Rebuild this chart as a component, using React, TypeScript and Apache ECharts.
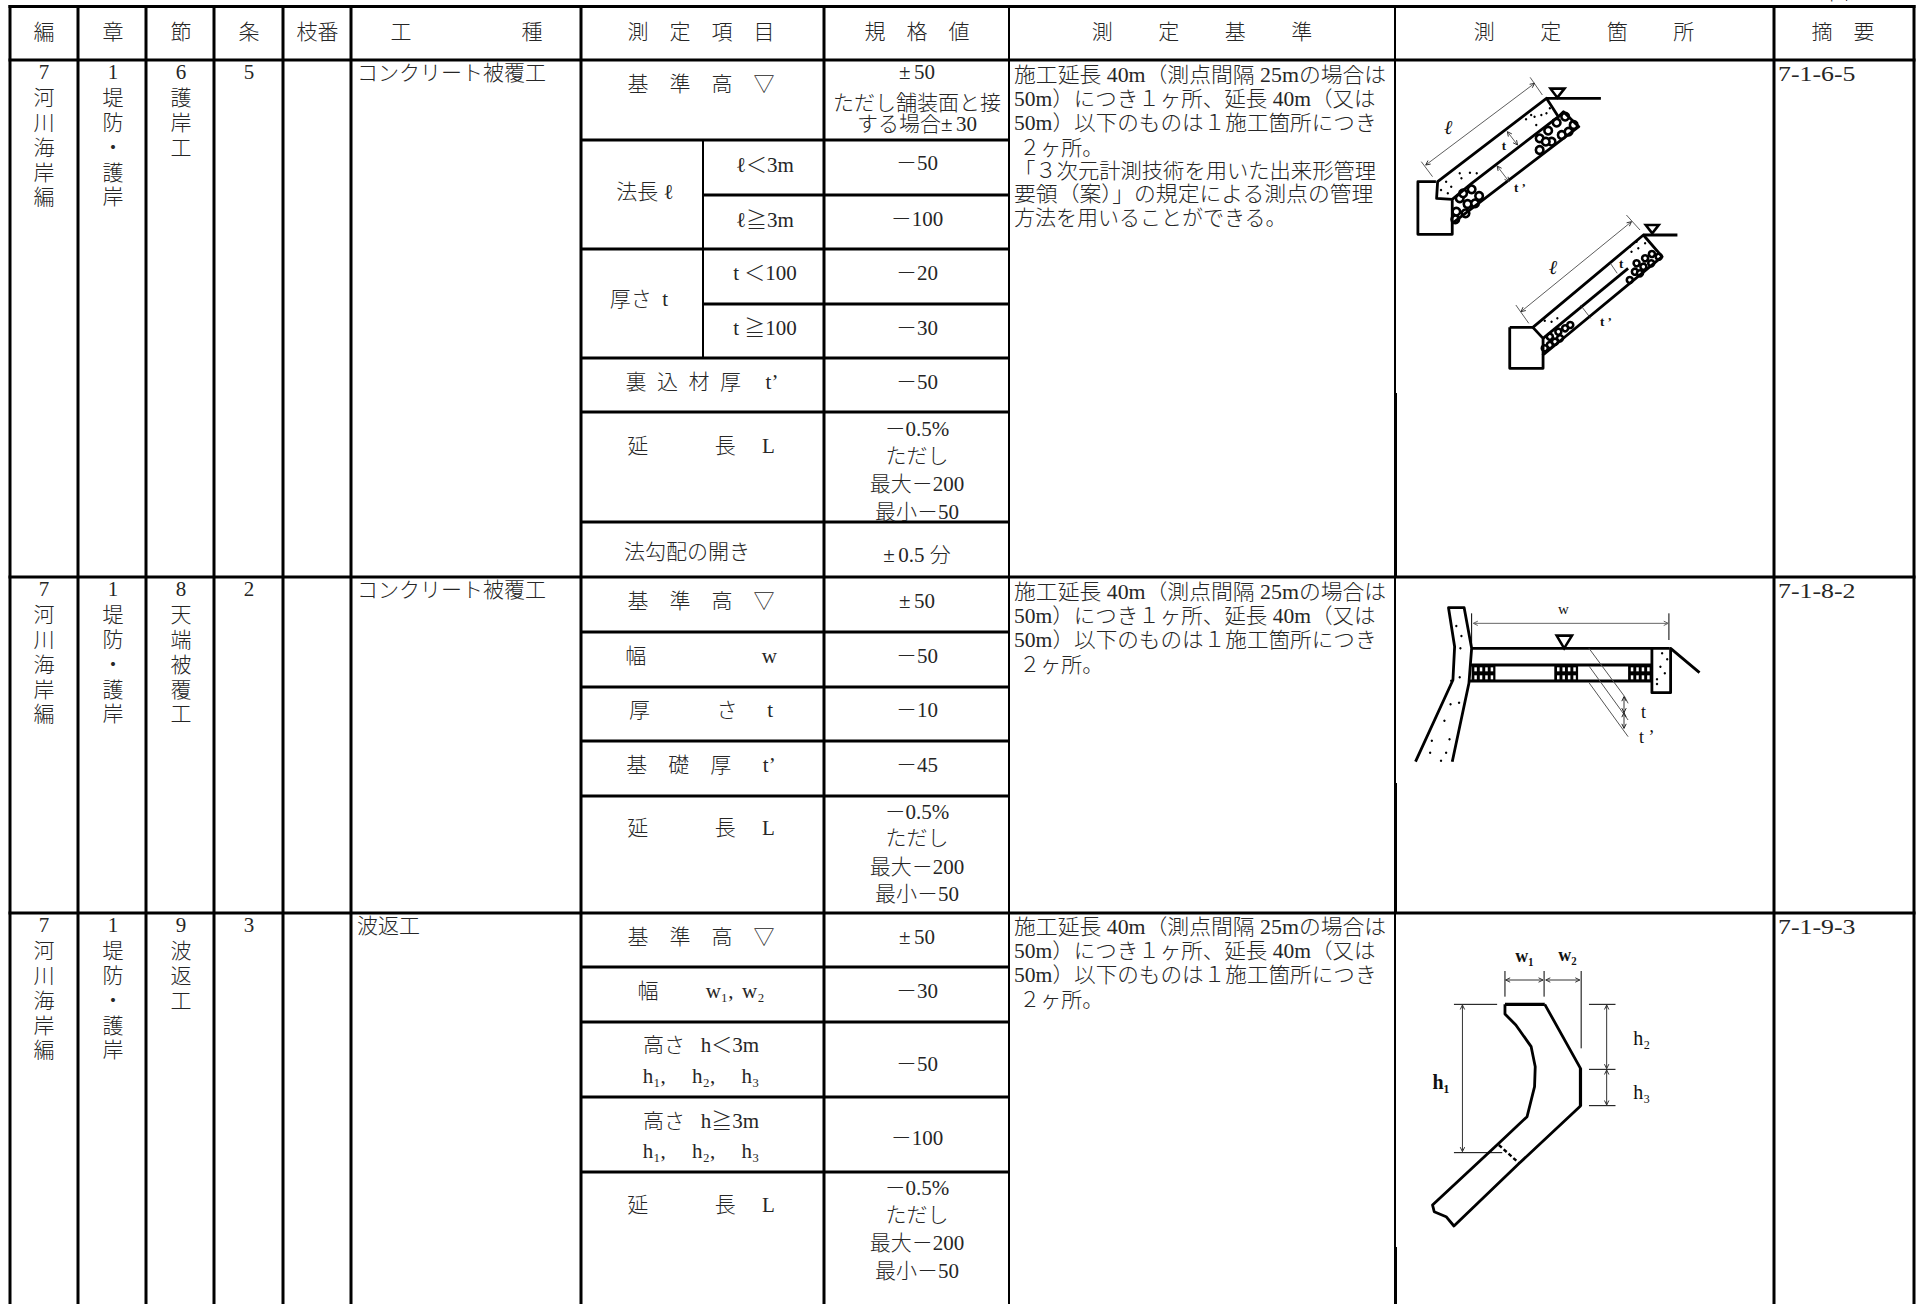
import React, { useEffect, useRef } from "react";
import * as echarts from "echarts";

// ---------- table content ----------
const E = "\u3000"; // 1em
const N = "\u2002"; // 1/2em
const Q = "\u2005"; // 1/4em
const S = "\u2006"; // 1/6em

const headerLabels = ["編", "章", "節", "条", "枝番", `工${E}${E}${E}${E}${E}${Q}種`, `測${E}定${E}項${E}目`, `規${E}格${E}値`, `測${E}${E}${S}定${E}${E}${S}基${E}${E}${S}準`, `測${E}${E}${S}定${E}${E}${S}箇${E}${E}${S}所`, `摘${E}要`];
const unitLabel = "単位：mm";

const hen = ["7", "河", "川", "海", "岸", "編"];
const sho = ["1", "堤", "防", "・", "護", "岸"];
const setsu = [["6", "護", "岸", "工"], ["8", "天", "端", "被", "覆", "工"], ["9", "波", "返", "工"]];
const jo = ["5", "2", "3"];
const koshu = ["コンクリート被覆工", "コンクリート被覆工", "波返工"];
const tekiyo = ["7-1-6-5", "7-1-8-2", "7-1-9-3"];

const kijunDaka = `基${E}準${E}高${E}▽`;
const encho = `延${E}${E}${E}${S}長${E}${Q}L`;
const pm50 = `±${S}50`;

const row1Items = [kijunDaka, `裏${N}込${N}材${N}厚${E}${S}t’`, encho, "法勾配の開き"];
const row1Nested = [`法長${Q}ℓ`, `厚さ${N}t`];
const row1Conditions = ["ℓ＜3m", "ℓ≧3m", "t ＜100", "t ≧100"];
const row1Values = [pm50, "ただし舗装面と接", `する場合±${S}30`, "－50", "－100", "－20", "－30", "－50", "－0.5%", "ただし", "最大－200", "最小－50", `±${S}0.5 分`];

const row2Items = [kijunDaka, `幅${E}${E}${E}${E}${E}${N}w`, `厚${E}${E}${E}${S}さ${E}${Q}${S}t`, `基${E}礎${E}厚${E}${N}t’`, encho];
const row2Values = [pm50, "－50", "－10", "－45", "－0.5%", "ただし", "最大－200", "最小－50"];

const hSubs = `h₁,${E}${Q}h₂,${E}${Q}h₃`;
const row3Items = [kijunDaka, `幅${E}${E}${Q}w₁,${Q}${S}w₂`, `高さ${N}${Q}h＜3m`, hSubs, `高さ${N}${Q}h≧3m`, hSubs, encho];
const row3Values = [pm50, "－30", "－50", "－100", "－0.5%", "ただし", "最大－200", "最小－50"];

const standardFull = [
  "施工延長 40m（測点間隔 25mの場合は",
  "50m）につき１ヶ所、延長 40m（又は",
  "50m）以下のものは１施工箇所につき",
  " ２ヶ所。",
  "「３次元計測技術を用いた出来形管理",
  "要領（案）」の規定による測点の管理",
  "方法を用いることができる。",
];
const standardShort = standardFull.slice(0, 4);

// ---------- layout ----------
const colX = [10, 78, 146, 214, 283, 351, 581, 824, 1009, 1396, 1774, 1914];
const rowTops = [60, 577, 913];
const BOTTOM = 1304;
const RIGHT = 1915.5;
const FONT = '"Liberation Serif","Noto Sans CJK JP",serif';
const INK = "#262626";
const lineStretch = [1.04, 1.025, 1.03, 1, 1.015, 1.04, 1];
const CROP_X = 2.94;

function App() {
  const ref = useRef<HTMLDivElement>(null);
  useEffect(() => {
    document.body.style.margin = "0";
    document.body.style.overflow = "hidden";
    const chart = echarts.init(ref.current!, null, { renderer: "svg" });
    const g: any[] = [];

    const line = (x1: number, y1: number, x2: number, y2: number, w = 3, c = "#000") =>
      g.push({ type: "line", silent: true, shape: { x1, y1, x2, y2 }, style: { stroke: c, lineWidth: w, lineCap: "butt" } });
    const txt = (text: string, x: number, y: number, align = "left", size = 21, extra: any = {}) =>
      g.push({
        type: "text", silent: true, x, y, ...(extra.scaleX ? { scaleX: extra.scaleX } : {}),
        style: { text, fontSize: size, fontFamily: FONT, fill: extra.fill || INK, align, verticalAlign: "middle", fontWeight: extra.weight || 300, fontStyle: extra.style || "normal" },
      });

    // ----- grid -----
    [6.5, 60, 577, 913].forEach((y) => line(8.5, y, RIGHT, y));
    colX.forEach((x, i) => {
      if (i === 9) return;
      const w = i === 8 ? 2 : 3;
      line(x, 5, x, BOTTOM, w);
    });
    line(1395, 5, 1395, BOTTOM, 2);
    [[393, 577], [783, 913], [1247, 1304]].forEach(([a, b]) => line(1396.5, a, 1396.5, b, 1));
    [140, 249, 358, 412, 522, 632, 687, 741, 796, 967, 1022, 1097, 1172].forEach((y) => line(581, y, 1009, y));
    [195, 304].forEach((y) => line(703, y, 1009, y));
    line(703, 140, 703, 358, 2);

    // ----- header -----
    const hx = [44, 113, 181, 249, 317.5, 466.5, 701, 917, 1202, 1584, 1843];
    headerLabels.forEach((t, i) => txt(t, hx[i], 31.5, "center"));
    txt(unitLabel, 1869, -8, "center");

    // ----- left columns -----
    const charOff = [12, 38, 63, 88, 113, 137];
    rowTops.forEach((top, r) => {
      hen.forEach((c, i) => txt(c, 44, top + charOff[i], "center"));
      sho.forEach((c, i) => txt(c, 113, top + charOff[i], "center"));
      setsu[r].forEach((c, i) => txt(c, 181, top + charOff[i], "center"));
      txt(jo[r], 249, top + 12, "center");
      txt(koshu[r], 357, top + 13);
      txt(tekiyo[r], 1778, top + 13.5, "left", 21, { scaleX: 1.23 });
    });

    // ----- measured items -----
    const ITEM = 701, VAL = 917;
    const iy1 = [83.5, 382, 446, 552];
    const ix1 = [701, 702, 701, 687];
    row1Items.forEach((t, i) => txt(t, ix1[i], iy1[i], "center"));
    txt(row1Nested[0], 645, 192, "center");
    txt(row1Nested[1], 639, 299, "center");
    [165, 220, 273, 328].forEach((y, i) => txt(row1Conditions[i], 765, y, "center"));
    [72, 102.5, 123.5, 163, 219, 273, 328, 382, 429, 456, 484, 512, 555].forEach((y, i) => txt(row1Values[i], VAL, y, "center"));

    [601, 656, 710, 765, 828].forEach((y, i) => txt(row2Items[i], ITEM, y, "center"));
    [601, 656, 710, 765, 812, 838, 867, 894].forEach((y, i) => txt(row2Values[i], VAL, y, "center"));

    [937, 991, 1045, 1076, 1121, 1151, 1205].forEach((y, i) => txt(row3Items[i], ITEM, y, "center"));
    [937, 991, 1064, 1138, 1188, 1215, 1243, 1271].forEach((y, i) => txt(row3Values[i], VAL, y, "center"));

    // ----- standards -----
    const stdOff = [15, 39, 63, 88, 111, 134, 158];
    standardFull.forEach((t, i) => txt(t, 1014, 60 + stdOff[i], "left", 21, { scaleX: lineStretch[i] }));
    standardShort.forEach((t, i) => txt(t, 1014, 577 + stdOff[i], "left", 21, { scaleX: lineStretch[i] }));
    standardShort.forEach((t, i) => txt(t, 1014, 913 + stdOff[i] - 1, "left", 21, { scaleX: lineStretch[i] }));

    // ----- sketches (zoomed-crop coordinates mapped to the page) -----
    const mk = (y0: number) => {
      const P = (x: number, y: number): [number, number] => [1390 + x / CROP_X, y0 + y / 3];
      const poly = (pts: number[][], w = 2.8, c = "#000", dash?: number[]) =>
        g.push({ type: "polyline", silent: true, shape: { points: pts.map(([x, y]) => P(x, y)) }, style: { stroke: c, lineWidth: w, fill: null, lineJoin: "round", lineDash: dash } });
      const tri = (pts: number[][]) =>
        g.push({ type: "polygon", silent: true, shape: { points: pts.map(([x, y]) => P(x, y)) }, style: { stroke: "#000", lineWidth: 2.6, fill: "#fff" } });
      const dot = (x: number, y: number, r = 1.2) => {
        const [a, b] = P(x, y);
        g.push({ type: "circle", silent: true, shape: { cx: a, cy: b, r }, style: { fill: "#000" } });
      };
      const ring = (x: number, y: number, r = 3.8, w = 2.6) => {
        const [a, b] = P(x, y);
        g.push({ type: "circle", silent: true, shape: { cx: a, cy: b, r }, style: { fill: "#fff", stroke: "#000", lineWidth: w } });
      };
      const arrow = (x1: number, y1: number, x2: number, y2: number, w = 0.8, c = "#333") => {
        poly([[x1, y1], [x2, y2]], w, c);
        const [ax, ay] = P(x1, y1), [bx, by] = P(x2, y2);
        const len = Math.hypot(bx - ax, by - ay) || 1, ux = (bx - ax) / len, uy = (by - ay) / len, h = 4.5;
        const head = (px: number, py: number, d: number) =>
          g.push({ type: "polyline", silent: true, shape: { points: [[px + d * h * ux - uy * 2.2, py + d * h * uy + ux * 2.2], [px, py], [px + d * h * ux + uy * 2.2, py + d * h * uy - ux * 2.2]] }, style: { stroke: c, lineWidth: 1, fill: null } });
        head(ax, ay, 1);
        head(bx, by, -1);
      };
      const label = (t: string, x: number, y: number, size = 15, weight: any = 700, style = "normal") => {
        const [a, b] = P(x, y);
        txt(t, a, b, "center", size, { weight, style, fill: "#111" });
      };
      return { poly, tri, dot, ring, arrow, label };
    };

    // slope sketch, upper
    {
      const d = mk(0);
      [[515, 350], [540, 375], [490, 368], [465, 392], [505, 405], [440, 415], [475, 425], [440, 450], [525, 395], [458, 425],
       [205, 595], [240, 568], [262, 588], [195, 635], [228, 612], [192, 658], [222, 640], [250, 610], [215, 580]].forEach(([x, y]) => d.ring(x, y));
      d.poly([[135, 545], [82, 545], [82, 703], [183, 703], [183, 598], [137, 595], [140, 545], [460, 295], [495, 350], [240, 550], [183, 598]]);
      d.poly([[460, 295], [620, 295]]);
      d.poly([[183, 670], [555, 380], [510, 335], [495, 350]]);
      d.tri([[472, 266], [513, 266], [492, 293]]);
      d.poly([[92, 485], [125, 530]], 0.8, "#333");
      d.poly([[412, 232], [448, 285]], 0.8, "#333");
      d.arrow(105, 495, 425, 250);
      d.arrow(345, 395, 375, 435);
      d.arrow(315, 498, 350, 545);
      d.label("ℓ", 172, 380, 20, 700, "italic");
      d.label("t", 335, 435, 13);
      d.label("t ’", 382, 563, 13);
      [[165, 545], [205, 520], [235, 518], [180, 560], [150, 570], [210, 535], [170, 580], [255, 520], [400, 358], [425, 350], [445, 345], [470, 325], [430, 375], [415, 345], [460, 340], [480, 360]].forEach(([x, y]) => d.dot(x, y));
    }
    // slope sketch, lower
    {
      const d = mk(0);
      [[470, 1010], [495, 995], [515, 985], [500, 1015], [470, 1035], [455, 1045], [485, 1025], [530, 975],
       [790, 770], [770, 762], [750, 775], [768, 790], [745, 800], [725, 790], [720, 815], [705, 840], [735, 820]].forEach(([x, y]) => d.ring(x, y, 3, 2.6));
      d.poly([[352, 982], [420, 982], [745, 705], [800, 770], [450, 1065], [450, 1105], [352, 1105], [352, 982]]);
      d.poly([[420, 982], [450, 1015], [450, 1065]]);
      d.poly([[450, 1015], [700, 805]]);
      d.poly([[745, 705], [845, 705]]);
      d.tri([[752, 675], [790, 675], [771, 700]]);
      d.poly([[370, 915], [408, 970]], 0.8, "#333");
      d.poly([[695, 645], [735, 690]], 0.8, "#333");
      d.arrow(385, 935, 710, 665);
      d.poly([[648, 790], [668, 820]], 0.8, "#333");
      d.poly([[560, 915], [590, 955]], 0.8, "#333");
      d.label("ℓ", 480, 800, 20, 700, "italic");
      d.label("t", 680, 790, 13);
      d.label("t ’", 635, 965, 13);
      [[455, 962], [475, 965], [492, 955], [710, 755], [730, 745], [750, 730], [725, 725], [705, 740]].forEach(([x, y]) => d.dot(x, y));
    }
    // crest sketch
    {
      const d = mk(570);
      d.poly([[75, 575], [185, 330], [190, 230], [172, 113], [218, 113], [240, 235], [232, 340], [183, 575]]);
      d.poly([[240, 130], [240, 235]], 1);
      d.poly([[820, 130], [820, 210]], 1);
      d.arrow(245, 160, 818, 160, 1, "#666");
      d.poly([[240, 235], [822, 235]]);
      d.poly([[238, 285], [770, 285]]);
      d.poly([[235, 333], [770, 333]]);
      d.poly([[770, 235], [770, 368], [825, 368], [825, 235], [910, 308]]);
      d.tri([[490, 197], [535, 197], [512, 235]]);
      [[240, 310], [483, 553], [700, 770]].forEach(([a, b]) => {
        g.push({ type: "rect", silent: true, shape: { x: 1390 + a / CROP_X, y: 570 + 285 / 3, width: (b - a) / CROP_X, height: 16 }, style: { fill: "#000" } });
        for (let x = a + 8; x < b - 4; x += 16) {
          [298, 322].forEach((y) => g.push({ type: "rect", silent: true, shape: { x: 1390 + x / CROP_X, y: 570 + (y - 6) / 3, width: 2.5, height: 4 }, style: { fill: "#fff" } }));
        }
      });
      d.poly([[585, 235], [690, 380], [700, 400]], 1, "#555");
      d.poly([[585, 288], [700, 450]], 1, "#555");
      d.poly([[585, 338], [700, 500]], 1, "#555");
      d.arrow(688, 380, 688, 428, 0.9, "#222");
      d.arrow(688, 428, 688, 475, 0.9, "#222");
      d.label("w", 510, 118, 15, 400);
      d.label("t", 745, 425, 18, 400);
      d.label("t ’", 755, 500, 18, 400);
      [[195, 168], [210, 198], [207, 235], [205, 322], [180, 332], [178, 403], [203, 398], [160, 452], [123, 512], [175, 508], [118, 548], [165, 548], [150, 572],
       [800, 250], [815, 268], [795, 290], [808, 310], [785, 328], [785, 342]].forEach(([x, y]) => d.dot(x, y));
    }
    // wave wall sketch
    {
      const d = mk(910);
      d.poly([[338, 283], [455, 283]], 3.4);
      d.poly([[338, 283], [338, 312], [370, 345], [415, 410], [427, 470], [425, 530], [403, 620], [320, 700], [125, 885], [130, 905], [165, 920], [188, 948], [380, 760], [560, 588], [560, 475], [455, 283]]);
      d.poly([[560, 475], [560, 588]], 3.2);
      d.poly([[320, 705], [380, 760]], 2.4, "#000", [4, 2.5]);
      d.poly([[338, 183], [338, 260]], 1);
      d.poly([[453, 183], [453, 260]], 1);
      d.poly([[562, 183], [562, 415]], 1);
      d.arrow(340, 210, 450, 210, 1, "#333");
      d.arrow(458, 210, 558, 210, 1, "#333");
      d.poly([[188, 283], [315, 283]], 1);
      d.poly([[188, 728], [330, 728]], 1);
      d.arrow(213, 285, 213, 725, 1, "#333");
      d.poly([[585, 283], [663, 283]], 1);
      d.poly([[585, 478], [663, 478]], 1);
      d.poly([[585, 587], [663, 587]], 1);
      d.arrow(637, 285, 637, 476, 1, "#333");
      d.arrow(637, 480, 637, 585, 1, "#333");
      d.label("w₁", 395, 138, 18);
      d.label("w₂", 522, 135, 18);
      d.label("h₁", 150, 515, 20);
      d.label("h₂", 740, 385, 20, 400);
      d.label("h₃", 740, 545, 20, 400);
    }

    chart.setOption({ animation: false, backgroundColor: "#fff", graphic: { elements: g } });
    return () => chart.dispose();
  }, []);
  return <div ref={ref} style={{ position: "absolute", left: 0, top: 0, width: 1923, height: 1304 }} />;
}

export default App;
